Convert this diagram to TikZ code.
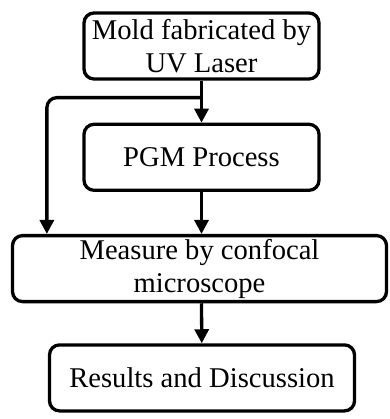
\documentclass[tikz,border=0pt]{standalone}
\usepackage{fontspec}
\setmainfont{Liberation Serif}
\usetikzlibrary{shapes}
\usetikzlibrary{arrows.meta}
\usetikzlibrary{positioning}

\begin{document}
\begin{tikzpicture}[x=1pt, y=1pt,
        stepbox/.style={rectangle, rounded corners=10pt, draw, line width=3.3pt, minimum height=66pt, align=center, inner sep=0pt, font=\fontsize{28.6}{33}\selectfont},
        flow/.style={->, >={Triangle[length=14pt,width=14pt]}, line width=3.3pt}]
        \useasboundingbox (0,0) rectangle (389,-419);
        \node [stepbox, minimum width=235pt] (mold) at (201.5,-46) {Mold fabricated by\\UV Laser};
        \node [below=42pt of mold, stepbox, minimum width=235pt] (pgm) {PGM Process};
        \node [below=42pt of pgm, xshift=-2pt, stepbox, minimum width=374pt] (measure) {Measure by confocal\\microscope};
        \node [below=40pt of measure, xshift=2.5pt, stepbox, minimum width=305pt] (results) {Results and Discussion};
        \coordinate [below=17pt of mold] (split);
        \coordinate [right=36pt of measure.north west] (leftin);
        \draw [flow] (mold) -- (pgm);
        \draw [flow, rounded corners=10pt] (split) -| (leftin);
        \draw [flow] (pgm) -- (pgm |- measure.north);
        \draw [flow] (pgm |- measure.south) -- (results);
\end{tikzpicture}
\end{document}
